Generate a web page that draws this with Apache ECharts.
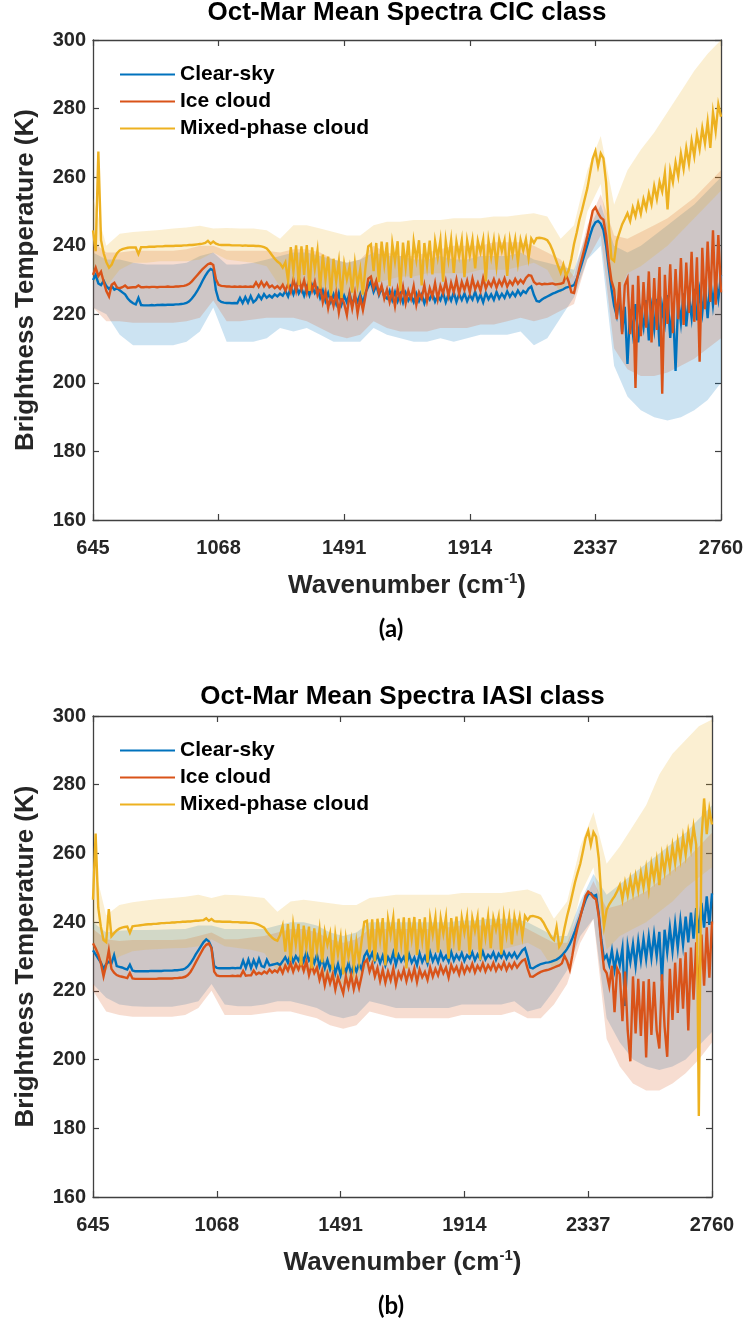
<!DOCTYPE html>
<html>
<head>
<meta charset="utf-8">
<script src="https://cdn.jsdelivr.net/npm/echarts@6/dist/echarts.min.js"></script>
<style>
  html, body { margin: 0; padding: 0; background: #ffffff; }
  #chart { width: 748px; height: 1320px; }
</style>
</head>
<body>
<div id="chart"></div>
<script>
// ---------- axes, labels ----------
const xTicks = [645, 1068, 1491, 1914, 2337, 2760];
const yTicks = [160, 180, 200, 220, 240, 260, 280, 300];
const classNames = ['Clear-sky', 'Ice cloud', 'Mixed-phase cloud'];
const classColors = ['#0072BD', '#D95319', '#EDB120'];
const envelopeFills = ['rgba(0,114,189,0.2)', 'rgba(217,83,25,0.2)', 'rgba(237,177,32,0.2)'];
const panelTitles = ['Oct-Mar Mean Spectra CIC class', 'Oct-Mar Mean Spectra IASI class'];
const panelTags = ['(a)', '(b)'];

// spectral sampling of the mean spectra (9 cm-1) and of the ±1 std envelopes (45 cm-1)
const wn = [];
for (let k = 645; k <= 2760; k += 9) wn.push(k);
const wnBand = [];
for (let k = 645; k <= 2760; k += 45) wnBand.push(k);

// ---------- (a) CIC class: mean brightness temperature (K) ----------
const cicClear = [
  230, 231.5, 229, 228.5, 229.8, 228.2, 227.4, 228.3, 227.2, 227.6,
  227, 226.4, 225.8, 224.6, 223.8, 223.2, 222.9, 224.8, 222.7, 222.6,
  222.6, 222.6, 222.7, 222.6, 222.7, 222.7, 222.8, 222.7, 222.8, 222.8,
  222.8, 222.9, 222.9, 223, 223.1, 223.3, 223.8, 224.6, 225.6, 226.8,
  228.2, 229.8, 231.2, 232.4, 233.2, 232.8, 227, 224.2, 223.6, 223.4,
  223.3, 223.3, 223.2, 223.3, 223.2, 224.8, 223.3, 225, 223.4, 225.3,
  223.5, 224.2, 225.6, 224.4, 225.9, 224.8, 225.5, 224.9, 225.8, 225.2,
  226, 225.4, 226.8, 225.2, 227.9, 225.8, 228.3, 226.1, 227.6, 225.4,
  227.9, 225.6, 228.4, 226.2, 227.5, 224.8, 226.9, 223.9, 226.2, 223.6,
  225.8, 223.1, 226.2, 222.9, 225.4, 223.5, 226.1, 222.7, 225.2, 223.6,
  225.9, 223.2, 226.4, 228.1, 229.6, 226.5, 228.4, 225.6, 227.8, 225.2,
  224.6, 226.8, 224.1, 226.5, 223.8, 225.9, 223.4, 226.2, 224, 225.5,
  223.6, 226, 223.9, 225.7, 223.2, 225.6, 224.3, 226.1, 223.7, 225.4,
  224.1, 226.3, 223.5, 225.8, 224, 226.4, 223.6, 225.9, 224.2, 226.1,
  223.8, 225.6, 224.3, 226.6, 224, 225.7, 223.5, 226.2, 224.4, 225.8,
  224.2, 226.5, 224.6, 226, 224.8, 226.7, 225.1, 226.4, 225.3, 226.9,
  225.6, 226.8, 226.2, 227.5, 228.1, 225.6, 223.9, 223.7, 224.3, 224.8,
  225.2, 225.6, 226, 226.3, 226.7, 227, 227.3, 227.8, 228, 228.2,
  228.5, 230.2, 232.5, 235, 237.6, 240.2, 243, 245.4, 246.8, 247.2,
  246.4, 244.6, 240, 233.5, 227.5, 222.5, 219.5, 224.6, 214.8, 222.2,
  205.5, 221.4, 214.6, 223, 211.8, 220.6, 216.2, 224.1, 212.4, 221.8,
  215.7, 224.5, 210.6, 222.3, 217.4, 225.6, 213.1, 222.8, 203.5, 224.4,
  217.6, 226.1, 216.5, 225.3, 219, 227.4, 218.2, 226.6, 220.5, 228.4,
  218.9, 230.2, 222.7, 229.8, 224.5, 231.5
];
const cicIce = [
  231.5, 233.6, 231.2, 232.4, 229.5, 226.8, 225.2, 228.6, 229.2, 227.8,
  227.6, 227.9, 228.4, 227.7, 227.8, 227.9, 227.9, 228.4, 227.9, 227.9,
  228, 227.9, 228, 228, 227.9, 228, 228, 228, 228.1, 228,
  228, 228.1, 228.1, 228.2, 228.3, 228.5, 228.9, 229.6, 230.5, 231.4,
  232.3, 233.2, 233.9, 234.6, 234.9, 234.4, 230.2, 228.6, 228.3, 228.2,
  228.1, 228.1, 228, 228.1, 228, 228.1, 228, 228.1, 228, 228.1,
  228, 229.3, 228, 229.5, 228.1, 229.2, 227.9, 228.4, 227.6, 228.2,
  227.4, 228.6, 226.9, 228.8, 226.5, 230.2, 226.8, 230.8, 227.2, 229.9,
  226.4, 230.4, 226.9, 229.5, 225.7, 228.2, 223.5, 226.7, 221.8, 225.6,
  222.4, 226.3, 220.6, 225.2, 223.1, 219.8, 225.9, 221.7, 226.1, 220.3,
  224.8, 221.2, 225.5, 230.4, 231, 227.6, 229.8, 226.1, 228.4, 224.6,
  227.2, 223.6, 226.8, 222.4, 227.5, 224.1, 228, 223.2, 226.9, 224.5,
  228.2, 222.8, 226.4, 224.6, 228.5, 223.9, 227.6, 225.2, 229.1, 224.4,
  228.3, 226.1, 229.6, 225.4, 229.2, 226.5, 230.1, 225.9, 229.4, 227.1,
  229.8, 226.4, 230.4, 227.3, 229.2, 226.8, 230.6, 227.5, 229.5, 228.2,
  230.2, 227.8, 229.9, 228.4, 230.5, 228.1, 229.7, 228.6, 230.3, 228.9,
  230, 229.1, 230.6, 231.4, 231.2, 229.4, 228.8, 229, 228.7, 228.9,
  228.8, 228.9, 229, 228.7, 228.8, 228.9, 229.2, 231.5, 229.5, 226.4,
  226.2, 229.8, 233.4, 236.4, 239.5, 242.8, 246.5, 250.2, 251.2, 249.5,
  248.2, 247.6, 243, 235.4, 229.8, 227.2, 218.6, 229.4, 214.2, 228.5,
  230.4, 214.2, 228.6, 198.5, 231.2, 213.6, 229.4, 216.1, 232.5, 211.8,
  230.6, 215.4, 233.8, 196.8, 231.5, 217.2, 234.6, 214.5, 233.2, 218.6,
  236.4, 216.9, 235.1, 220.4, 238.2, 217.8, 236.6, 206.2, 239.4, 221.5,
  241.2, 223.6, 244.5, 222.8, 243.1, 226.4
];
const cicMixed = [
  244.5, 238.4, 267.5, 241.6, 237.8, 235.2, 233.6, 234.5, 236.4, 237.8,
  238.6, 239, 239.2, 239.4, 239.5, 239.5, 239.5, 237.6, 239.6, 239.6,
  239.6, 239.7, 239.7, 239.7, 239.8, 239.8, 239.8, 239.9, 239.9, 239.9,
  239.9, 240, 240, 240, 240.1, 240.1, 240.2, 240.2, 240.3, 240.4,
  240.5, 240.6, 240.8, 241.4, 240.6, 241.2, 240.6, 240.3, 240.2, 240.2,
  240.2, 240.2, 240.1, 240.1, 240.1, 240.1, 240, 240.1, 240, 240,
  240, 239.9, 239.9, 239.8, 239.6, 239.2, 238.3, 237.2, 236.2, 235.4,
  234.8, 233.6, 235.2, 229.8, 239.6, 232.4, 240.1, 228.6, 239.8, 231.5,
  240.2, 226.8, 239.5, 233.2, 238.6, 227.5, 237.4, 230.1, 236.8, 225.4,
  236.2, 229.6, 235.4, 224.8, 234.6, 230.2, 233.8, 226.3, 234.9, 228.4,
  233.1, 225.7, 234, 239.8, 240.4, 232.6, 240.8, 229.4, 241.2, 234.5,
  241, 228.2, 240.6, 235.4, 241.3, 226.9, 240.9, 233.8, 241.5, 230.6,
  241.2, 235.9, 241.6, 228.4, 240.8, 234.2, 241.5, 231.6, 241.3, 236.5,
  241.6, 229.5, 241.4, 235.8, 241.7, 232.1, 241.2, 236.9, 241.6, 230.8,
  241.5, 237.2, 241.7, 233.4, 241.4, 238.1, 241.8, 229.6, 241.5, 236.6,
  241.6, 234.1, 241.8, 238.4, 241.5, 231.2, 241.7, 237.5, 241.9, 235.2,
  241.7, 238.6, 241.9, 236.4, 242.1, 240.8, 242.2, 242.3, 242.2, 242,
  241.6, 240.4, 238.6, 236.4, 234.2, 232.1, 234.5, 231.2, 232.8, 236.2,
  240.5, 243.8, 247.5, 250.4, 253.6, 256.8, 261.2, 265.4, 267.6, 263.2,
  266.9, 265.5, 258.4, 246.2, 236.2, 235.5, 241.4, 243.8, 246.2, 247.8,
  249.5, 247.2, 251.1, 248.6, 252.4, 249.3, 253.6, 250.8, 255.2, 252.1,
  257.4, 253.6, 258.6, 255.8, 261.2, 250.6, 262, 258.5, 264.3, 260.2,
  266.8, 262.4, 268.5, 263.9, 270.6, 266.1, 272.4, 268.2, 274.3, 269.8,
  276.2, 268.5, 278.9, 273.4, 281.2, 277.6
];
// (a) ±1 std envelopes on wnBand
const cicClearLo = [222, 220, 214, 211, 211, 211, 211, 212, 215, 222, 212, 212, 212, 213, 216, 215, 216, 214, 212, 212, 212, 216, 214, 213, 212, 212, 213, 212, 213, 214, 214, 214, 215, 211, 213, 219, 225, 236, 240, 205, 196, 192, 190, 189, 190, 192, 195, 200];
const cicClearHi = [238, 236, 236, 235, 234.5, 234.5, 234.5, 235, 237, 238, 234.5, 234.5, 235, 236, 237, 238, 238, 237, 236, 235, 236, 238, 237, 237, 236, 236, 237, 236, 236, 237, 237, 237, 238, 236, 235, 234, 233, 244, 252, 240, 238, 240, 243, 246, 249, 252, 256, 260];
const cicIceLo = [222, 218, 218, 217.5, 217.5, 217.5, 217.5, 218, 219, 224, 218, 218, 218.5, 219, 219, 219, 218, 216, 214, 213, 214, 218, 216, 215, 215, 215, 216, 216, 216, 217, 217, 218, 219, 218, 219, 221, 223, 236, 243, 210, 204, 202, 202, 203, 205, 207, 210, 213];
const cicIceHi = [241, 238, 238, 238.5, 238.5, 238.5, 238.5, 239, 240, 240, 238.5, 238.5, 238.5, 238.5, 238, 239, 239, 238, 236, 235, 236, 240, 238, 237, 237, 238, 239, 240, 240, 240, 241, 241, 241, 240, 238, 236, 231, 246, 255, 243, 242, 244, 246, 248, 251, 254, 258, 262];
const cicMixedLo = [230, 228, 233, 235, 235, 235.5, 235.5, 235.5, 236, 238, 236, 235.5, 235, 234, 228, 228, 228, 227, 225, 224, 224, 229, 230, 231, 231, 232, 232, 232, 232, 233, 233, 233, 234, 235, 233, 226, 232, 250, 258, 224, 232, 234, 237, 240, 244, 248, 252, 256];
const cicMixedHi = [254, 240, 243.5, 244, 244.3, 244.6, 245, 245.3, 245.8, 245, 245.2, 245, 245, 244.5, 242, 246, 246, 245, 244, 243, 243, 246, 247, 247, 247.5, 247.5, 247.5, 248, 248, 248, 248.5, 248.5, 249, 249.5, 248.5, 242, 246, 262, 272, 252, 262, 268, 273, 279, 285, 291, 296, 300];

// ---------- (b) IASI class: mean brightness temperature (K) ----------
const iasiClear = [
  231.8, 230.6, 229.4, 228.2, 226.4, 227.8, 228.5, 228, 230.4, 227.2,
  227, 226.8, 226.5, 226.2, 227.6, 225.9, 225.7, 225.7, 225.7, 225.7,
  225.7, 225.7, 225.8, 225.8, 225.8, 225.8, 225.8, 225.9, 225.9, 225.9,
  225.9, 226, 226, 226.1, 226.2, 226.5, 227.1, 228, 229.2, 230.6,
  231.8, 233, 234.2, 235, 234.4, 232.6, 227.2, 226.7, 226.6, 226.6,
  226.6, 226.6, 226.6, 226.7, 226.6, 226.7, 226.6, 228.8, 226.7, 229.1,
  226.7, 228.9, 227, 229.3, 227.2, 226.9, 229, 227.4, 227.6, 227.8,
  228, 227.5, 228.6, 229.8, 228.2, 230.6, 228.4, 230.1, 228.8, 230.8,
  228.6, 231.2, 228.9, 230.2, 228.1, 230.5, 227.2, 229.4, 226.6, 229,
  226.2, 228.4, 225.1, 227.8, 224.6, 227.5, 225.4, 228.1, 224.9, 227.6,
  225.6, 227.9, 226.2, 230.1, 231.4, 229.2, 231, 228.6, 230.4, 228.1,
  230.2, 227.4, 229.8, 228.3, 231.1, 227.6, 230.4, 228.6, 229.9, 227.8,
  230.6, 228.2, 229.7, 227.5, 230.9, 228.4, 230.1, 227.9, 231.2, 228.6,
  230.4, 228.3, 231.1, 229, 230.2, 228.5, 231.3, 228.8, 230.5, 229.2,
  231, 228.7, 230.4, 229.5, 231.2, 228.9, 230.6, 229.3, 231.4, 229.1,
  230.5, 229.6, 231.2, 229, 230.8, 229.7, 231.3, 229.4, 230.9, 229.8,
  231.1, 229.5, 230.6, 231.8, 232.4, 229.8, 226.8, 226.5, 227, 227.4,
  227.8, 228, 228.2, 228.3, 228.5, 228.8, 229.1, 229.6, 230.3, 231.2,
  232.2, 233.6, 235.4, 237.4, 239.6, 241.8, 244.2, 246.5, 248.1, 248.4,
  247.6, 247.9, 242.4, 234.8, 229.2, 230.4, 227.6, 231.8, 226.2, 230.9,
  227.5, 232.4, 215.6, 233, 228.4, 233.6, 227.2, 234.5, 228.8, 235.1,
  229.2, 235.8, 229.6, 236.4, 230.1, 237.2, 222.8, 237.8, 231.2, 238.5,
  231.6, 239.6, 232.5, 240.4, 233.4, 241.6, 234.1, 242.8, 235.2, 244.1,
  236.8, 245.6, 238.4, 247.5, 239.2, 248.4
];
const iasiIce = [
  233.8, 232.4, 230.6, 228, 224.2, 227.5, 231.8, 226.4, 225.3, 224.6,
  224.3, 224.1, 223.9, 223.7, 225.2, 223.6, 223.5, 223.5, 223.5, 223.5,
  223.5, 223.5, 223.5, 223.5, 223.5, 223.6, 223.6, 223.6, 223.6, 223.6,
  223.6, 223.7, 223.7, 223.8, 223.9, 224.1, 224.6, 225.5, 226.8, 228.3,
  229.7, 231.1, 232.5, 233.4, 233.8, 232.4, 225.6, 224.5, 224.3, 224.3,
  224.3, 224.3, 224.3, 224.4, 224.3, 224.4, 224.3, 225.8, 224.4, 224.5,
  224.5, 225.9, 224.8, 225.3, 224.9, 225.6, 225.1, 226.2, 225.3, 226,
  225.4, 226.8, 225.2, 227.4, 225.9, 228.1, 225.6, 227.8, 226.2, 228.4,
  225.8, 228.6, 224.6, 227.5, 225.2, 226.8, 223.2, 225.9, 221.6, 225.1,
  222.2, 224.8, 220.4, 223.9, 221.7, 219.3, 224.2, 221, 224.6, 220.5,
  223.8, 220.8, 224.4, 228.2, 229.1, 225.6, 227.8, 224.2, 226.7, 222.9,
  226.1, 222.4, 225.6, 223.1, 226.5, 221.9, 225.4, 223.6, 226.2, 222.8,
  225.8, 223.4, 226.5, 222.6, 226.2, 224, 225.5, 223.2, 226.8, 224.1,
  226.4, 224.5, 227.2, 225.1, 226.8, 223.9, 227.5, 225.6, 227, 224.8,
  227.6, 225.2, 227.1, 225.8, 227.9, 225.4, 227.3, 226, 228, 225.7,
  227.5, 226.2, 228.1, 225.9, 227.6, 226.4, 228.3, 226.1, 227.8, 226.6,
  228.2, 226.8, 227.9, 228.8, 229.2, 226.5, 224.2, 224.1, 224.6, 225.1,
  225.5, 225.8, 226, 226.2, 226.5, 226.8, 227.1, 227.4, 228, 230.2,
  228.6, 226.2, 230.4, 235.2, 238.6, 241.5, 244.6, 247.6, 248.9, 248.2,
  247.2, 246.6, 241.8, 233.5, 226.4, 225.2, 221.4, 227.3, 213.8, 226.5,
  224.8, 211.2, 225.6, 208.4, 199.5, 224.2, 207.6, 223.5, 206.9, 222.8,
  200.6, 223.4, 207.2, 222.6, 208.5, 203.2, 224.8, 209.6, 200.8, 226.4,
  211.5, 228.2, 213.6, 229.5, 214.8, 231.2, 208.5, 232.6, 217.4, 234.1,
  219.2, 236.4, 221.5, 238.5, 223.8, 240.2
];
const iasiMixed = [
  246.5, 265.8, 244.2, 238.6, 234.8, 234.2, 243.8, 235.9, 236.8, 237.6,
  238.1, 238.4, 238.6, 238.7, 236.9, 238.8, 238.9, 239, 239.1, 239.2,
  239.3, 239.4, 239.4, 239.5, 239.5, 239.6, 239.7, 239.7, 239.8, 239.8,
  239.9, 239.9, 240, 240, 240.1, 240.1, 240.2, 240.2, 240.3, 240.4,
  240.4, 240.5, 240.6, 241.1, 240.4, 240.9, 240.3, 240.2, 240.2, 240.1,
  240.1, 240.1, 240.1, 240, 240, 240, 239.9, 239.9, 239.9, 239.8,
  239.8, 239.7, 239.5, 239.2, 238.8, 238.4, 237.2, 236.3, 235.5, 234.9,
  234.6, 236.2, 238.9, 231.4, 239.4, 228.8, 239.2, 233.5, 239.5, 227.4,
  239, 232.6, 238.7, 226.5, 238.2, 231.8, 237.8, 228.3, 237.1, 233.4,
  236.6, 226.1, 236.2, 230.6, 235.5, 224.8, 235.1, 229.9, 234.6, 226.8,
  234.2, 228.5, 234.6, 240.1, 240.4, 231.2, 240.8, 228.6, 241, 234.8,
  241.2, 227.4, 240.8, 236.1, 241.3, 229.8, 241, 233.6, 241.4, 226.5,
  241.2, 235.2, 241.5, 230.4, 240.9, 234.6, 241.4, 228.2, 241.1, 236.3,
  241.4, 231.2, 241.1, 236.6, 241.5, 229.4, 241.2, 234.8, 241.6, 231.7,
  241.3, 236.9, 241.6, 230.5, 241.2, 237.4, 241.5, 228.9, 241.3, 235.6,
  241.6, 232.4, 241.2, 237.8, 241.5, 230.6, 241.7, 236.2, 241.4, 233.5,
  241.6, 237.6, 241.5, 235.9, 241.8, 240.6, 241.7, 241.8, 241.6, 241.4,
  241, 239.9, 238.4, 237, 235.6, 234.8, 238.6, 232.9, 234.2, 238.2,
  241.8, 244.8, 248.2, 251.6, 254.4, 257, 260.6, 264.5, 266.6, 262.5,
  266.2, 264.8, 258.6, 247.4, 238.8, 243.6, 245.2, 246.4, 247.5, 249,
  250.8, 246.6, 251.5, 247.8, 252.6, 248.4, 253.4, 249.2, 254.4, 250.1,
  255.6, 249.5, 256.8, 252.4, 257.9, 250.8, 259.4, 254.6, 260.5, 255.8,
  262.2, 257.1, 263.4, 258.3, 264.8, 259.6, 266.2, 261.4, 267.8, 262.5,
  183.6, 264.2, 276, 265.6, 272.8, 268.4
];
// (b) ±1 std envelopes on wnBand
const iasiClearLo = [222, 218, 216, 215.5, 215.4, 215.4, 215.4, 216, 217, 222, 216, 215.5, 215.5, 216, 217, 217, 216, 215, 213, 212, 213, 217, 216, 215, 215, 215, 215, 215, 216, 216, 216, 216, 217, 214, 215, 220, 226, 236, 241, 212, 205, 200, 198, 197, 198, 200, 204, 208];
const iasiClearHi = [240, 237, 237.5, 237.7, 237.7, 237.8, 237.9, 238, 239, 239, 238, 238, 238, 238, 239, 240, 240, 239, 237, 236, 237, 240, 240, 240, 240, 240, 240, 240, 240.5, 240.5, 241, 241, 241, 240, 238, 236, 236, 246, 254, 248, 251, 254, 257, 260, 263, 266, 270, 274];
const iasiIceLo = [220, 214, 213, 212.5, 212.5, 212.5, 212.5, 213, 215, 220, 213, 213, 213, 213.5, 214, 214, 213, 212, 210, 209, 210, 214, 213, 212, 212, 212, 212, 212, 213, 213, 213, 213, 214, 212, 212, 216, 222, 234, 241, 206, 198, 193, 191, 191, 193, 196, 200, 205];
const iasiIceHi = [238, 235, 234.5, 234.8, 234.8, 234.8, 234.8, 235, 236, 237, 235, 235, 235.5, 236, 237, 238, 238, 237, 235, 234, 235, 238, 238, 238, 238, 238, 238, 238.5, 239, 239, 239, 239.5, 240, 238, 236, 234, 234, 244, 252, 244, 245, 247, 249, 252, 255, 258, 262, 266];
const iasiMixedLo = [232, 226, 230, 231.5, 232, 232.2, 232.4, 232.5, 233, 235, 233, 232.5, 232, 231, 226, 226, 226, 225, 223, 222, 223, 228, 229, 230, 230, 231, 231, 231, 231, 232, 232, 232, 233, 234, 232, 226, 232, 248, 256, 232, 236, 238, 240, 243, 246, 250, 253, 256];
const iasiMixedHi = [258, 242, 245, 245.8, 246.3, 246.7, 247, 247.4, 248, 247, 248, 247.8, 247.5, 247, 243, 246, 246.5, 246, 245.5, 245, 245, 247, 247.5, 248, 248, 248, 248, 248, 248.5, 248.5, 248.5, 248.5, 249, 249.5, 248, 241, 246, 262, 272, 257, 262, 268, 274, 283, 289, 293, 297, 299];

// ---------- chart ----------
const FONT = '"Liberation Sans", Arial, Helvetica, sans-serif';
const INK = '#262626';
const AXIS = '#404040';

const panels = [
  { grid: { left: 93, top: 40, width: 628, height: 480 }, titleY: 0,
    means: [cicClear, cicIce, cicMixed],
    bands: [[cicClearLo, cicClearHi], [cicIceLo, cicIceHi], [cicMixedLo, cicMixedHi]] },
  { grid: { left: 93, top: 716, width: 619, height: 481 }, titleY: 684,
    means: [iasiClear, iasiIce, iasiMixed],
    bands: [[iasiClearLo, iasiClearHi], [iasiIceLo, iasiIceHi], [iasiMixedLo, iasiMixedHi]] }
];

const pairs = (xs, ys) => xs.map((x, i) => [x, ys[i]]);

// ±1 std envelope: one filled polygon through the axis scales (upper edge out, lower edge back)
function envelopeSeries(xi, yi, lo, hi, fill) {
  return {
    type: 'custom', xAxisIndex: xi, yAxisIndex: yi, silent: true, z: 1,
    data: wnBand.map((x, i) => [x, lo[i], hi[i]]),
    encode: { x: 0, y: [1, 2] },
    renderItem: function (params, api) {
      if (params.dataIndex !== 0) return null;
      const upper = wnBand.map((x, i) => api.coord([x, hi[i]]));
      const lower = wnBand.map((x, i) => api.coord([x, lo[i]])).reverse();
      return { type: 'polygon', shape: { points: upper.concat(lower) }, style: { fill: fill } };
    }
  };
}

const xAxes = [], yAxes = [], series = [], legends = [], graphics = [];

panels.forEach((p, g) => {
  const frameX = {
    type: 'value', gridIndex: g,
    min: xTicks[0], max: xTicks[xTicks.length - 1], interval: xTicks[1] - xTicks[0],
    axisLine: { show: true, onZero: false, lineStyle: { color: AXIS, width: 1.3 } },
    axisTick: { show: true, inside: true, length: 6, lineStyle: { color: AXIS, width: 1.2 } },
    splitLine: { show: false }
  };
  const frameY = {
    type: 'value', gridIndex: g,
    min: yTicks[0], max: yTicks[yTicks.length - 1], interval: yTicks[1] - yTicks[0],
    axisLine: { show: true, onZero: false, lineStyle: { color: AXIS, width: 1.3 } },
    axisTick: { show: true, inside: true, length: 6, lineStyle: { color: AXIS, width: 1.2 } },
    splitLine: { show: false }
  };
  xAxes.push(Object.assign({}, frameX, {
    position: 'bottom',
    axisLabel: { show: true, margin: 18, fontFamily: FONT, fontWeight: 'bold', fontSize: 20, color: INK,
                 formatter: v => String(v) },
    name: '{b|Wavenumber (cm}{s|-1}{b|)}',
    nameLocation: 'middle', nameGap: 51,
    nameTextStyle: {
      rich: {
        b: { fontFamily: FONT, fontWeight: 'bold', fontSize: 26, color: INK, lineHeight: 30 },
        s: { fontFamily: FONT, fontWeight: 'bold', fontSize: 15, color: INK, lineHeight: 16, verticalAlign: 'top' }
      }
    }
  }));
  xAxes.push(Object.assign({}, frameX, { position: 'top', axisLabel: { show: false } }));
  yAxes.push(Object.assign({}, frameY, {
    position: 'left',
    axisLabel: { show: true, margin: 7, fontFamily: FONT, fontWeight: 'bold', fontSize: 20, color: INK },
    name: 'Brightness Temperature (K)', nameLocation: 'middle', nameGap: 54,
    nameTextStyle: { fontFamily: FONT, fontWeight: 'bold', fontSize: 26, color: INK }
  }));
  yAxes.push(Object.assign({}, frameY, { position: 'right', axisLabel: { show: false } }));
  const xi = 2 * g, yi = 2 * g;

  p.bands.forEach(([lo, hi], c) => series.push(envelopeSeries(xi, yi, lo, hi, envelopeFills[c])));

  p.means.forEach((vals, c) => {
    series.push({
      name: classNames[c], type: 'line', xAxisIndex: xi, yAxisIndex: yi,
      data: pairs(wn, vals), symbol: 'none', color: classColors[c],
      lineStyle: { width: 2.4, color: classColors[c], join: 'miter' }, z: 3 + c
    });
  });

  legends.push({
    data: classNames, orient: 'vertical', left: p.grid.left + 22, top: p.grid.top + 19,
    icon: 'rect', itemWidth: 55, itemHeight: 2, itemGap: 6,
    textStyle: { fontFamily: FONT, fontWeight: 'bold', fontSize: 21, color: '#000' },
    selectedMode: false
  });

  graphics.push({
    type: 'text', x: p.grid.left + p.grid.width / 2, y: p.titleY,
    style: { text: panelTitles[g], font: 'bold 26px ' + FONT, fill: '#000',
             textAlign: 'center', align: 'center', textVerticalAlign: 'top', verticalAlign: 'top' }
  });
  graphics.push({
    type: 'text', x: 391, y: p.grid.top + p.grid.height + 97,
    style: { text: panelTags[g], font: 'bold 24px Lato, "Open Sans", sans-serif', fill: '#000',
             textAlign: 'center', align: 'center', textVerticalAlign: 'top', verticalAlign: 'top' }
  });
});

const chart = echarts.init(document.getElementById('chart'), null, { renderer: 'canvas' });
chart.setOption({
  animation: false,
  backgroundColor: '#ffffff',
  grid: panels.map(p => Object.assign({ containLabel: false }, p.grid)),
  xAxis: xAxes,
  yAxis: yAxes,
  legend: legends,
  series: series,
  graphic: graphics
});
</script>
</body>
</html>
